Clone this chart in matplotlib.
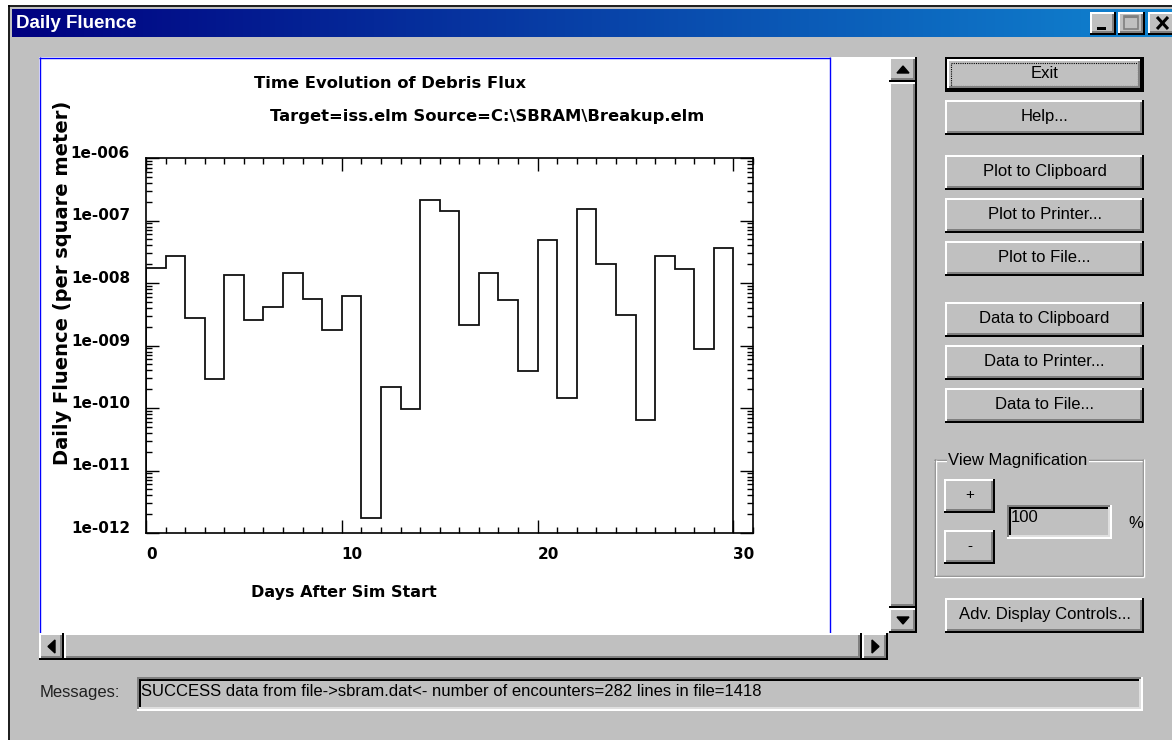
import numpy as np
import matplotlib
matplotlib.use("Agg")
import matplotlib.pyplot as plt
import matplotlib.patches as patches
from matplotlib.colors import LinearSegmentedColormap
from matplotlib.ticker import FixedLocator, MultipleLocator, LogLocator, NullFormatter

# --- data ---
day_edges = list(range(0, 31))
fluence = [1.72e-8, 2.73e-8, 2.79e-9, 2.94e-10, 1.36e-8, 2.53e-9, 4.08e-9, 1.43e-8,
           5.6e-9, 1.75e-9, 6.2e-9, 1.76e-12, 2.17e-10, 9.75e-11, 2.13e-7, 1.44e-7,
           2.1e-9, 1.43e-8, 5.35e-9, 3.95e-10, 4.82e-8, 1.46e-10, 1.53e-7, 1.99e-8,
           3.11e-9, 6.43e-11, 2.73e-8, 1.66e-8, 8.7e-10, 3.59e-8]
x_ticks = [0, 10, 20, 30]
x_tick_labels = ["0", "10", "20", "30"]
y_ticks = [1e-12, 1e-11, 1e-10, 1e-9, 1e-8, 1e-7, 1e-6]
y_tick_labels = ["1e-012", "1e-011", "1e-010", "1e-009", "1e-008", "1e-007", "1e-006"]

right_buttons = ["Exit", "Help...", "Plot to Clipboard", "Plot to Printer...", "Plot to File...",
                 "Data to Clipboard", "Data to Printer...", "Data to File..."]
right_button_tops = [57, 100, 155, 198, 241, 302, 345, 388]
message = "SUCCESS data from file->sbram.dat<- number of encounters=282 lines in file=1418"

W, H = 1172, 740
c_face = '#c0c0c0'
c_shadow = '#808080'
gui_font = 'Liberation Sans'

fig = plt.figure(figsize=(W / 100, H / 100), dpi=100)
bg = fig.add_axes([0, 0, 1, 1])
bg.axis('off')

def line(xs, ys, color, lw=1.44, **kw):
    bg.plot(xs, ys, color=color, lw=lw, solid_capstyle='butt', **kw)

def raised(x0, y0, x1, y1):
    bg.add_patch(patches.Rectangle((x0, y0), x1 - x0, y1 - y0, fc=c_face, ec='none'))
    line([x0, x1 - 1], [y0 + 1, y0 + 1], 'white')
    line([x0 + 1, x0 + 1], [y0, y1 - 1], 'white')
    line([x0, x1], [y1 - 1, y1 - 1], 'black')
    line([x1 - 1, x1 - 1], [y0, y1], 'black')
    line([x0 + 2, x1 - 2], [y1 - 3, y1 - 3], c_shadow)
    line([x1 - 3, x1 - 3], [y0 + 2, y1 - 2], c_shadow)

def sunken(x0, y0, x1, y1):
    bg.add_patch(patches.Rectangle((x0, y0), x1 - x0, y1 - y0, fc=c_face, ec='none'))
    line([x0, x1], [y0 + 1, y0 + 1], c_shadow)
    line([x0 + 1, x0 + 1], [y0, y1], c_shadow)
    line([x0 + 2, x1 - 2], [y0 + 3, y0 + 3], 'black')
    line([x0 + 3, x0 + 3], [y0 + 2, y1 - 2], 'black')
    line([x0, x1], [y1 - 1, y1 - 1], 'white')
    line([x1 - 1, x1 - 1], [y0, y1], 'white')
    line([x0 + 2, x1 - 2], [y1 - 3, y1 - 3], '#dfdfdf')
    line([x1 - 3, x1 - 3], [y0 + 2, y1 - 2], '#dfdfdf')

def button(x0, y0, x1, y1, label, fs=12, default=False):
    if default:
        bg.add_patch(patches.Rectangle((x0, y0), x1 - x0, y1 - y0, fc='black', ec='none'))
        raised(x0 + 2, y0 + 2, x1 - 2, y1 - 2)
        bg.add_patch(patches.Rectangle((x0 + 6, y0 + 6), x1 - x0 - 12, y1 - y0 - 12,
                                       fc='none', ec='black', lw=0.8, ls=(0, (1, 1))))
    else:
        raised(x0, y0, x1, y1)
    bg.text((x0 + x1) / 2, (y0 + y1) / 2 - 1, label, ha='center', va='center',
            fontsize=fs, family=gui_font, color='black')

# window body
bg.add_patch(patches.Rectangle((0, 0), W, H, fc='white', ec='none'))
bg.add_patch(patches.Rectangle((8, 5), W - 8, H - 5, fc=c_face, ec='none'))
line([8.5, 8.5], [5, H], 'black', lw=1.2)
line([8, W], [5.5, 5.5], 'black', lw=1.2)

# title bar gradient
grad = np.linspace(0, 1, 256).reshape(1, -1)
cmap = LinearSegmentedColormap.from_list('tb', ['#000080', '#1084d0'])
bg.imshow(grad, extent=(12, W, 37, 9), cmap=cmap, aspect='auto', zorder=1)
bg.text(16, 23, "Daily Fluence", color='white', fontsize=13.5, fontweight='bold',
        family=gui_font, va='center', zorder=3)

# caption buttons
raised(1090, 12, 1116, 35)
bg.add_patch(patches.Rectangle((1097, 27), 9, 2.5, fc='black', ec='none', zorder=3))
raised(1118, 12, 1145, 35)
bg.add_patch(patches.Rectangle((1124, 16), 14, 13, fc='none', ec='#808080', lw=1.2, zorder=3))
line([1124, 1138], [17, 17], '#808080', lw=1.5, zorder=3)
raised(1148, 12, 1180, 35)
line([1157, 1168], [17, 29], 'black', lw=2.2, zorder=3)
line([1157, 1168], [29, 17], 'black', lw=2.2, zorder=3)

# plot panel
bg.add_patch(patches.Rectangle((39, 57), 850, 576, fc='white', ec='none'))
line([39.5, 39.5], [57, 633], '#0000ff', lw=1.0)
line([39, 829.5], [57.5, 57.5], '#0000ff', lw=1.0)
line([829.5, 829.5], [57, 633], '#0000ff', lw=1.0)

# vertical scrollbar
raised(889, 57, 917, 82)
bg.fill([897, 909, 903], [73, 73, 66], color='black')
raised(889, 82, 917, 608)
raised(889, 608, 917, 633)
bg.fill([897, 909, 903], [617, 617, 624], color='black')

# horizontal scrollbar
raised(39, 633, 64, 660)
bg.fill([55, 55, 48], [640, 653, 646.5], color='black')
raised(64, 633, 862, 660)
raised(862, 633, 888, 660)
bg.fill([872, 872, 879], [640, 653, 646.5], color='black')

# right-hand buttons
for i, (lbl, top) in enumerate(zip(right_buttons, right_button_tops)):
    button(945, top, 1144, top + 35, lbl, default=(i == 0))

# view magnification group
line([934, 1143], [459.5, 459.5], c_shadow, lw=1)
line([934, 1143], [460.5, 460.5], 'white', lw=1)
line([934.5, 934.5], [459, 576], c_shadow, lw=1)
line([935.5, 935.5], [460, 576], 'white', lw=1)
line([934, 1143], [575.5, 575.5], c_shadow, lw=1)
line([934, 1144], [576.5, 576.5], 'white', lw=1)
line([1142.5, 1142.5], [459, 576], c_shadow, lw=1)
line([1143.5, 1143.5], [459, 577], 'white', lw=1)
bg.text(948, 460, "View Magnification", fontsize=12, family=gui_font, va='center',
        color='black', bbox=dict(fc=c_face, ec='none', pad=1))
button(944, 479, 995, 513, "+", fs=11)
button(944, 530, 995, 564, "-", fs=11)
sunken(1007, 505, 1112, 539)
bg.text(1011, 518, "100", fontsize=12, family=gui_font, va='center', color='black')
bg.text(1128, 523, "%", fontsize=12, family=gui_font, va='center', color='black')
button(945, 598, 1144, 633, "Adv. Display Controls...")

# messages
bg.text(40, 693, "Messages:", fontsize=12, family=gui_font, va='center', color='#202020')
sunken(137, 677, 1143, 711)
bg.text(141, 691, message, fontsize=12, family=gui_font, va='center', color='black')

bg.set_xlim(0, W)
bg.set_ylim(H, 0)

# --- the chart ---
ax = fig.add_axes([146 / W, (H - 533) / H, 607 / W, 375 / H])
ax.set_facecolor('white')
ax.stairs(fluence, day_edges, baseline=1e-12, color='#111111', lw=1.3)
ax.set_yscale('log')
ax.set_xlim(0, 31)
ax.set_ylim(1e-12, 1e-6)

ax.set_xticks(x_ticks, labels=x_tick_labels, fontweight='bold', fontsize=11, ha='left')
ax.xaxis.set_minor_locator(MultipleLocator(1))
ax.set_yticks(y_ticks, labels=y_tick_labels, fontweight='bold', fontsize=11, va='baseline')
ax.yaxis.set_minor_locator(LogLocator(base=10, subs=np.arange(2, 10), numticks=20))
ax.yaxis.set_minor_formatter(NullFormatter())
ax.tick_params(which='both', direction='in', top=True, right=True, color='black', width=1.0)
ax.tick_params(which='major', length=9.5)
ax.tick_params(which='minor', length=4.5)
ax.tick_params(axis='x', which='major', pad=10)
ax.tick_params(axis='y', which='major', pad=11.5)
for s in ax.spines.values():
    s.set_linewidth(1.2)
    s.set_color('black')

ax.set_ylabel("Daily Fluence (per square meter)", fontsize=14, fontweight='bold')
ax.yaxis.set_label_coords((63 - 146) / 607, (533 - 283) / 375)
ax.set_xlabel("Days After Sim Start", fontsize=11.5, fontweight='bold')
ax.xaxis.set_label_coords((344 - 146) / 607, (533 - 593) / 375)
ax.xaxis.label.set_va('center')
ax.yaxis.label.set_va('center')

bg.text(390, 84, "Time Evolution of Debris Flux", ha='center', va='center',
        fontsize=11.8, fontweight='bold')
bg.text(487, 117, r"Target=iss.elm Source=C:\SBRAM\Breakup.elm", ha='center', va='center',
        fontsize=11.8, fontweight='bold')

fig.savefig("out.png", dpi=100)
plt.close(fig)
